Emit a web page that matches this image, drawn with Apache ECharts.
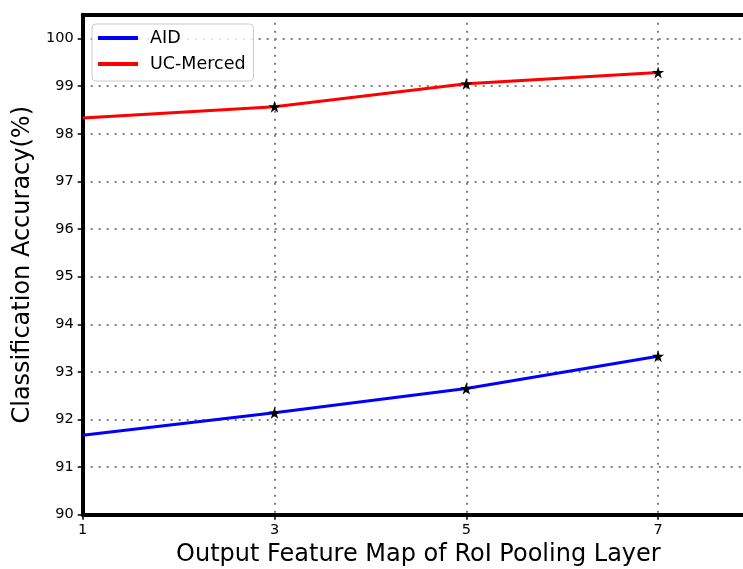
<!DOCTYPE html>
<html>
<head>
<meta charset="utf-8">
<script src="https://cdn.jsdelivr.net/npm/echarts@6/dist/echarts.min.js"></script>
<style>
  html, body { margin: 0; padding: 0; background: #fff; overflow: hidden; }
  #chart { width: 743px; height: 569px; }
</style>
</head>
<body>
<div id="chart"></div>
<script>
// Output feature map size of the RoI pooling layer
const poolSizes = [1, 3, 5, 7];
// Classification accuracy (%) per dataset
const aidAcc = [91.67, 92.14, 92.65, 93.33];
const ucMercedAcc = [98.33, 98.57, 99.05, 99.29];
const seriesNames = ['AID', 'UC-Merced'];
const seriesColors = ['#0000ff', '#ff0000'];
const yTicks = [90, 91, 92, 93, 94, 95, 96, 97, 98, 99, 100];

const FONT = 'DejaVu Sans';
const STAR = 'path://M50,0 L61.2,34.5 L97.6,34.5 L68.2,55.9 L79.4,90.5 L50,69.1 L20.6,90.5 L31.8,55.9 L2.4,34.5 L38.8,34.5 Z';

function points(ys) {
  return poolSizes.map((x, i) => ({
    value: [x, ys[i]],
    symbol: i === 0 ? 'none' : STAR,
    itemStyle: { color: '#000' }
  }));
}

function lineSeries(name, ys, color) {
  return {
    name: name,
    type: 'line',
    data: points(ys),
    symbolSize: 12,
    showAllSymbol: true,
    lineStyle: { color: color, width: 3 },
    emphasis: { disabled: true },
    z: 3
  };
}

const gridLine = { show: true, lineStyle: { color: '#808080', width: 2, type: [2, 6] } };

const chart = echarts.init(document.getElementById('chart'), null, { renderer: 'canvas', width: 743, height: 569 });
chart.setOption({
  animation: false,
  textStyle: { fontFamily: FONT },
  grid: {
    left: 82.7, top: 14.8, width: 671.3, height: 499.9,
    containLabel: false,
    outerBoundsMode: 'none'
  },
  xAxis: [{
    type: 'value',
    min: 1,
    max: 8,
    position: 'bottom',
    name: 'Output Feature Map of RoI Pooling Layer',
    nameLocation: 'middle',
    nameGap: 27,
    nameTextStyle: { fontSize: 24, color: '#000', fontFamily: FONT },
    axisLine: { show: true, onZero: false, lineStyle: { color: '#000', width: 4 } },
    axisTick: { show: true, customValues: poolSizes, length: 5, lineStyle: { color: '#000', width: 1.5 } },
    axisLabel: { show: true, customValues: poolSizes, margin: 8, fontSize: 14.5, color: '#000', fontFamily: FONT },
    splitLine: gridLine
  }, {
    type: 'value',
    min: 1,
    max: 8,
    position: 'top',
    axisLine: { show: true, onZero: false, lineStyle: { color: '#000', width: 4 } },
    axisTick: { show: false },
    axisLabel: { show: false },
    splitLine: { show: false }
  }],
  yAxis: {
    type: 'value',
    min: 90,
    max: 100.5,
    interval: 1,
    name: 'Classification Accuracy(%)',
    nameLocation: 'middle',
    nameGap: 39,
    nameTextStyle: { fontSize: 24, color: '#000', fontFamily: FONT },
    axisLine: { show: true, onZero: false, lineStyle: { color: '#000', width: 4 } },
    axisTick: { show: true, customValues: yTicks, length: 5, lineStyle: { color: '#000', width: 1.5 } },
    axisLabel: { show: true, customValues: yTicks, margin: 9, fontSize: 14.5, color: '#000', fontFamily: FONT },
    splitLine: gridLine
  },
  legend: {
    orient: 'vertical',
    left: 92,
    top: 24,
    padding: [4, 8, 7, 6],
    itemGap: 6,
    itemWidth: 40,
    itemHeight: 4,
    icon: 'rect',
    backgroundColor: 'rgba(255,255,255,0.8)',
    borderColor: '#cccccc',
    borderWidth: 1,
    borderRadius: 4,
    selectedMode: false,
    textStyle: { fontSize: 17.5, color: '#000', fontFamily: FONT, lineHeight: 20, padding: [0, 0, 0, 7] },
    data: seriesNames.map((n, i) => ({ name: n, itemStyle: { color: seriesColors[i] } }))
  },
  series: [
    lineSeries(seriesNames[0], aidAcc, seriesColors[0]),
    lineSeries(seriesNames[1], ucMercedAcc, seriesColors[1])
  ]
});
</script>
</body>
</html>
